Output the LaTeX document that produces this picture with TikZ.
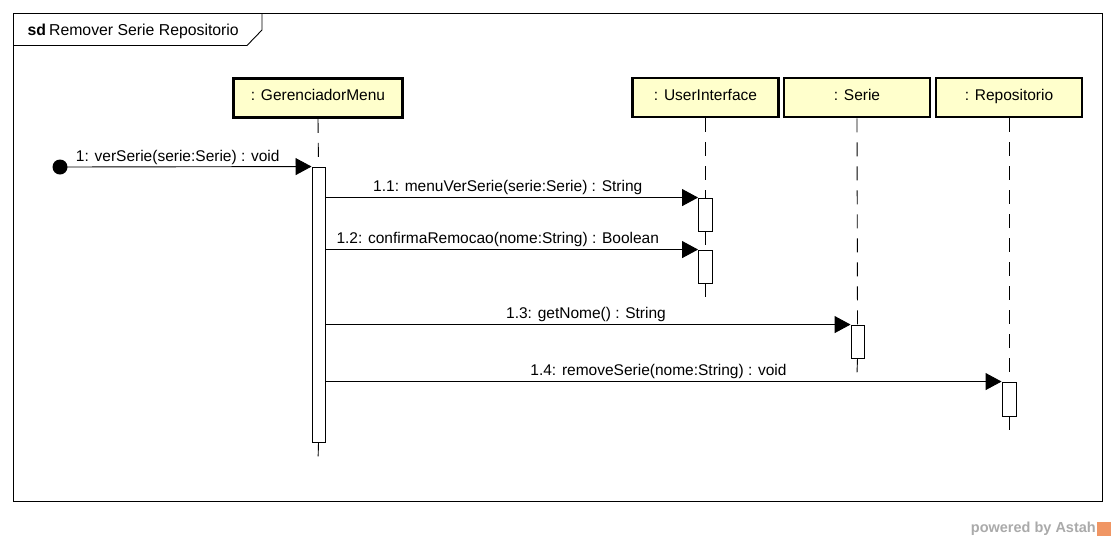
\documentclass[tikz,border=0pt]{standalone}
\usepackage{fontspec}
\setmainfont{Liberation Sans}
\usetikzlibrary{arrows.meta}
\definecolor{headfill}{RGB}{255,255,204}
\definecolor{astahgray}{RGB}{170,170,170}
\definecolor{astahorange}{RGB}{240,150,100}
\tikzset{
  lifehead/.style={draw, line width=2.6pt, fill=headfill, inner sep=0pt, minimum height=39pt, text height=11.5pt, text depth=6.5pt, font=\fontsize{15.5}{18}\selectfont},
  actbox/.style={draw, fill=white, line width=0.9pt, inner sep=0pt, minimum width=13pt},
  lifeline/.style={line width=0.9pt, dash pattern=on 14pt off 10pt},
  msg/.style={line width=0.9pt, -{Triangle[length=16pt,width=17pt]}},
  msglabel/.style={above, inner sep=2pt, font=\fontsize{15.5}{18}\selectfont},
}
\begin{document}
\begin{tikzpicture}[x=1pt,y=-1pt]
\useasboundingbox (0,0) rectangle (1116,542);
\fill[white] (0,0) rectangle (1116,542);
% frame
\draw[line width=0.9pt] (13,13) rectangle (1102,501);
\draw[line width=0.9pt] (13,45.5) -- (247,45.5) -- (262,30) -- (262,13);
\node[anchor=west, inner sep=0pt, font=\fontsize{15.8}{18}\selectfont] (title) at (27.5,31) {\textbf{sd}\hspace{3pt}Remover Serie Repositorio};
% heads
\node[lifehead, minimum width=169pt] (gm) at (318,98) {: GerenciadorMenu};
\node[lifehead, minimum width=146pt] (ui) at (705.5,97.5) {: UserInterface};
\node[lifehead, minimum width=146pt] (se) at (857,97.5) {: Serie};
\node[lifehead, minimum width=146pt] (re) at (1009,97.5) {: Repositorio};
% activations
\node[actbox, minimum height=275pt] (gmact) at (318.5,304.5) {};
\node[actbox, minimum height=33pt, minimum width=14pt] (uia) at (705.5,214.5) {};
\node[actbox, minimum height=33pt, minimum width=14pt] (uib) at (705.5,266.5) {};
\node[actbox, minimum height=33pt] (sea) at (857.5,341.5) {};
\node[actbox, minimum height=34pt, minimum width=14pt] (rea) at (1009,399) {};
% lifeline ends
\coordinate (gmend) at (318,462);
\coordinate (uiend) at (705.5,301);
\coordinate (seend) at (857,373);
\coordinate (reend) at (1009,436);
\begin{scope}[on background layer/.style={}]
\draw[lifeline] (gm.south) -- (gmact.north);
\draw[lifeline] (gmact.south) -- (gmend);
\draw[lifeline] (ui.south) -- (uia.north);
\draw[lifeline] (uia.south) -- (uib.north);
\draw[lifeline] (uib.south) -- (uiend);
\draw[lifeline] (se.south) -- (sea.north);
\draw[lifeline] (sea.south) -- (seend);
\draw[lifeline] (re.south) -- (rea.north);
\draw[lifeline] (rea.south) -- (reend);
\end{scope}
% messages
\node[circle, fill=black, inner sep=0pt, minimum size=15pt] (start) at (60,167) {};
\draw[msg] (start.center) -- node[msglabel, xshift=-8pt] {1: verSerie(serie:Serie) : void} (gmact.north west);
\draw[msg] (gmact.east |- uia.north) -- node[msglabel, xshift=-4pt] {1.1: menuVerSerie(serie:Serie) : String} (uia.north west);
\draw[msg] (gmact.east |- uib.north) -- node[msglabel, xshift=-14pt] {1.2: confirmaRemocao(nome:String) : Boolean} (uib.north west);
\draw[msg] (gmact.east |- sea.north) -- node[msglabel, xshift=-2pt] {1.3: getNome() : String} (sea.north west);
\draw[msg] (gmact.east |- rea.north) -- node[msglabel, xshift=-5pt] {1.4: removeSerie(nome:String) : void} (rea.north west);
% powered by
\node[anchor=east, inner sep=0pt, text=astahgray, font=\fontsize{14.5}{16}\selectfont\bfseries] (pw) at (1096,529) {powered by Astah};
\node[fill=astahorange, inner sep=0pt, minimum size=14pt, anchor=west] (logo) at (1097,529) {};
\end{tikzpicture}
\end{document}
